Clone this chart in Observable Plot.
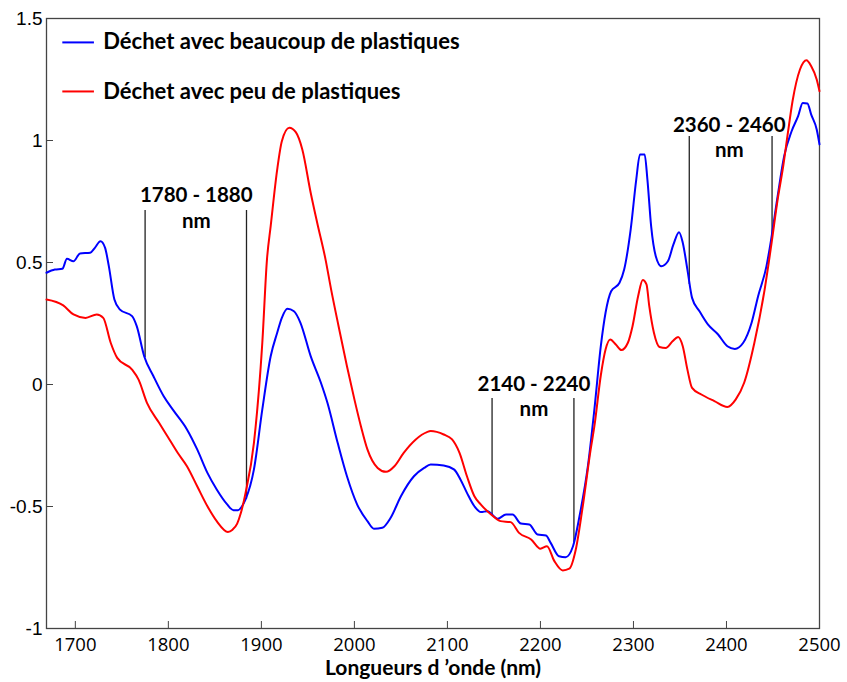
<!DOCTYPE html>
<html>
<head>
<meta charset="utf-8">
<script src="https://cdn.jsdelivr.net/npm/d3@7"></script>
<script src="https://cdn.jsdelivr.net/npm/@observablehq/plot@0.6"></script>
<style>
  html, body { margin: 0; padding: 0; background: #fff; }
  #chart svg { display: block; }
</style>
</head>
<body>
<div id="chart"></div>
<script>
// Series names and colours
const seriesNames = ["Déchet avec beaucoup de plastiques", "Déchet avec peu de plastiques"];
const seriesColors = ["#0000ff", "#ff0000"];

// Blue series: "beaucoup de plastiques"
const blueNm = [1669,1678,1686,1691,1698,1705,1716,1721,1727,1732,1736,1742,1748,1761,1766,1774,1784,1795,1806,1820,1831,1842,1852,1863,1870,1875,1879,1883,1892,1901,1910,1917,1922,1928,1935,1942,1953,1964,1971,1982,1992,2003,2014,2021,2030,2039,2050,2064,2075,2082,2096,2107,2114,2121,2129,2136,2143,2154,2163,2170,2179,2188,2197,2206,2211,2220,2227,2235,2242,2251,2258,2265,2270,2276,2285,2290,2297,2303,2307,2312,2315,2319,2324,2330,2337,2343,2349,2353,2358,2363,2371,2380,2391,2401,2409,2418,2427,2434,2443,2448,2455,2462,2470,2477,2482,2487,2491,2497,2500];
const blueVal = [0.458,0.471,0.474,0.515,0.505,0.537,0.540,0.560,0.587,0.560,0.485,0.348,0.307,0.280,0.239,0.116,0.034,-0.048,-0.109,-0.184,-0.266,-0.362,-0.430,-0.490,-0.515,-0.515,-0.500,-0.471,-0.348,-0.102,0.116,0.212,0.273,0.310,0.300,0.253,0.116,0.007,-0.075,-0.239,-0.376,-0.492,-0.560,-0.591,-0.587,-0.546,-0.458,-0.376,-0.342,-0.328,-0.332,-0.348,-0.389,-0.444,-0.499,-0.523,-0.519,-0.550,-0.533,-0.533,-0.570,-0.574,-0.615,-0.619,-0.649,-0.704,-0.708,-0.663,-0.540,-0.335,-0.102,0.160,0.294,0.382,0.417,0.471,0.635,0.840,0.943,0.943,0.840,0.649,0.526,0.485,0.505,0.574,0.624,0.581,0.471,0.355,0.300,0.246,0.205,0.157,0.146,0.171,0.253,0.362,0.485,0.594,0.772,0.936,1.038,1.100,1.154,1.152,1.107,1.045,0.984];

// Red series: "peu de plastiques"
const redNm = [1669,1687,1698,1711,1723,1730,1738,1745,1761,1768,1777,1790,1799,1810,1820,1831,1842,1852,1864,1869,1874,1878,1883,1892,1901,1906,1910,1917,1922,1930,1937,1944,1953,1960,1969,1975,1983,1992,2000,2007,2014,2025,2034,2043,2053,2066,2078,2082,2096,2105,2113,2121,2129,2136,2147,2157,2168,2177,2190,2200,2207,2215,2224,2231,2238,2245,2254,2258,2265,2270,2275,2281,2287,2294,2299,2305,2310,2314,2317,2322,2328,2335,2342,2348,2353,2358,2363,2373,2387,2401,2410,2419,2430,2441,2448,2455,2461,2466,2471,2479,2486,2491,2497,2500];
const redVal = [0.348,0.324,0.287,0.273,0.287,0.273,0.171,0.109,0.061,0.020,-0.075,-0.157,-0.212,-0.280,-0.335,-0.417,-0.499,-0.560,-0.604,-0.595,-0.570,-0.526,-0.444,-0.239,0.171,0.512,0.649,0.881,0.997,1.052,1.034,0.963,0.786,0.663,0.512,0.389,0.239,0.075,-0.061,-0.171,-0.266,-0.342,-0.358,-0.335,-0.280,-0.225,-0.195,-0.191,-0.205,-0.225,-0.280,-0.376,-0.458,-0.492,-0.533,-0.560,-0.564,-0.608,-0.635,-0.673,-0.663,-0.724,-0.762,-0.755,-0.676,-0.512,-0.266,-0.171,0.040,0.143,0.184,0.164,0.141,0.171,0.239,0.362,0.428,0.410,0.321,0.212,0.154,0.150,0.177,0.195,0.157,0.061,-0.014,-0.041,-0.068,-0.092,-0.061,0.007,0.171,0.389,0.567,0.758,0.895,1.031,1.161,1.291,1.329,1.305,1.250,1.202];

// Axes
const xTicks = [1700,1800,1900,2000,2100,2200,2300,2400,2500];
const yTicks = [-1,-0.5,0,0.5,1,1.5];
const xTitle = "Longueurs d \u2019onde (nm)";

// Annotated bands (nm) and the heights of their marker lines
const bandLabels = ["1780 - 1880", "2140 - 2240", "2360 - 2460"];
const bandStart = [1775, 2148, 2360];
const bandEnd = [1884, 2236, 2449];
const bandTop = [0.713, -0.057, 1.016];
const bandStartBottom = [0.11, -0.533, 0.41];
const bandEndBottom = [-0.47, -0.648, 0.594];
const bandLabelX = [1830, 2193, 2403];
const bandLabelY = [0.776, 0.002, 1.063];
const bandUnitY = [0.668, -0.104, 0.959];

// Build tables
const rows = [
  ...blueNm.map((x, i) => ({x, y: blueVal[i], s: seriesNames[0]})),
  ...redNm.map((x, i) => ({x, y: redVal[i], s: seriesNames[1]}))
];
const rules = bandLabels.flatMap((l, i) => [
  {x: bandStart[i], y1: bandStartBottom[i], y2: bandTop[i]},
  {x: bandEnd[i], y1: bandEndBottom[i], y2: bandTop[i]}
]);
const bands = bandLabels.map((l, i) => ({label: l, x: bandLabelX[i], y: bandLabelY[i], yu: bandUnitY[i]}));
const legend = seriesNames.map((n, i) => ({name: n, color: seriesColors[i], y: [1.402, 1.201][i]}));

const bold = "Lato, 'Open Sans', sans-serif";
const W = 847, H = 682, mt = 18, mb = 54, ml = 46, mr = 28;
const fw = W - ml - mr, fh = H - mt - mb;

const chart = Plot.plot({
  width: W, height: H,
  marginTop: mt, marginBottom: mb, marginLeft: ml, marginRight: mr,
  x: {domain: [1669, 2500]},
  y: {domain: [-1, 1.5]},
  color: {domain: seriesNames, range: seriesColors},
  marks: [
    Plot.frame({stroke: "#444", strokeWidth: 1.3}),
    Plot.tickX(xTicks, {x: d => d, stroke: "#444", insetTop: fh - 7}),
    Plot.tickY(yTicks, {y: d => d, stroke: "#444", insetRight: fw - 7}),
    Plot.axisX({ticks: xTicks, tickSize: 0, tickPadding: 9, fontSize: 18.5, fontFamily: "'Open Sans', sans-serif", tickFormat: d => String(d), label: null}),
    Plot.axisY({ticks: yTicks, tickSize: 0, tickPadding: 4, fontSize: 19, fontFamily: "'Liberation Sans', Arial, sans-serif", tickFormat: d => String(d), label: null}),
    Plot.text([xTitle], {frameAnchor: "bottom", dy: 46, text: d => d, fontSize: 21, fontWeight: "bold", fontFamily: bold, fill: "#000"}),
    Plot.ruleX(rules, {x: "x", y1: "y1", y2: "y2", stroke: "#222", strokeWidth: 1.3}),
    Plot.text(bands, {x: "x", y: "y", text: "label", fontSize: 20.5, fontWeight: "bold", fontFamily: bold, fill: "#000"}),
    Plot.text(bands, {x: "x", y: "yu", text: () => "nm", fontSize: 20.5, fontWeight: "bold", fontFamily: bold, fill: "#000"}),
    Plot.line(rows, {x: "x", y: "y", z: "s", stroke: "s", strokeWidth: 2, curve: "monotone-x"}),
    Plot.link(legend, {x1: 1686, x2: 1720, y1: "y", y2: "y", stroke: "color", strokeWidth: 2}),
    Plot.text(legend, {x: 1730, y: "y", text: "name", textAnchor: "start", fontSize: 22, fontWeight: "bold", fontFamily: bold, fill: "#000"})
  ]
});
document.getElementById("chart").appendChild(chart);
</script>
</body>
</html>
